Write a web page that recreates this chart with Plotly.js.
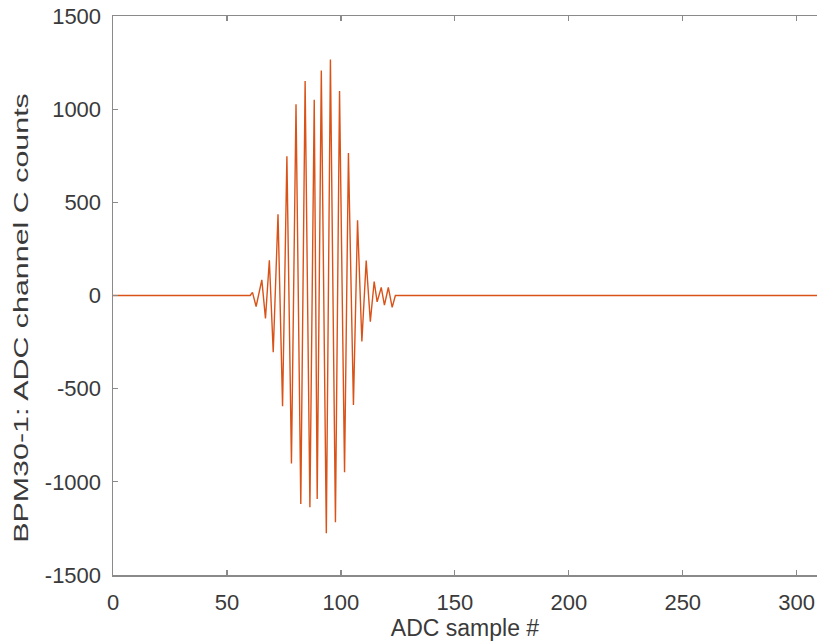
<!DOCTYPE html>
<html>
<head>
<meta charset="utf-8">
<script src="https://cdn.plot.ly/plotly-3.0.1.min.js"></script>
<style>html,body{margin:0;padding:0;background:#fff;}#chart{width:817px;height:642px;}</style>
</head>
<body>
<div id="chart"></div>
<script>
// ADC sample positions of the waveform turning points
const sampleIdx = [0, 60.2, 61.2, 62.8, 65.3, 66.9, 68.6, 70.3, 72.4, 74.4, 76.3, 78.3, 80.3, 82.4,
  84.3, 86.4, 88.3, 89.6, 91.4, 93.6, 95.4, 97.6, 99.4, 101.6, 103.3, 105.5, 107.3, 109.2,
  111.1, 112.9, 114.6, 115.9, 117.7, 119.1, 120.8, 122.5, 123.9, 310];
// ADC channel C counts at those positions
const counts = [0, 0, 17, -59, 84, -123, 189, -304, 436, -594, 747, -901, 1026, -1119,
  1151, -1137, 1051, -1092, 1208, -1276, 1267, -1217, 1097, -949, 765, -588, 404, -247,
  187, -140, 75, -34, 43, -52, 43, -64, 0, 0];
const xTicks = [0, 50, 100, 150, 200, 250, 300];
const yTicks = [-1500, -1000, -500, 0, 500, 1000, 1500];
const xTitle = 'ADC sample #';
const yTitle = 'BPM30-1: ADC channel C counts';

const fontFam = 'Liberation Sans, Arial, sans-serif';
const txtCol = '#3a3a3a';
const axCol = '#8a8a8a';

Plotly.newPlot('chart', [{
  x: sampleIdx, y: counts, type: 'scatter', mode: 'lines',
  line: {color: '#D95319', width: 1.4}, hoverinfo: 'skip'
}], {
  width: 817, height: 642,
  margin: {l: 112.7, r: 0, t: 15.5, b: 67},
  paper_bgcolor: '#fff', plot_bgcolor: '#fff',
  showlegend: false,
  font: {family: fontFam, size: 22, color: txtCol},
  xaxis: {
    range: [0, 308.9], tickvals: xTicks, ticktext: xTicks.map(String),
    ticks: 'inside', ticklen: 5, tickwidth: 1.2, tickcolor: axCol,
    showline: true, linecolor: axCol, linewidth: 1.5, mirror: 'ticks',
    showgrid: false, zeroline: false,
    tickfont: {family: fontFam, size: 22, color: txtCol},
    ticklabelstandoff: 7,
    title: {text: xTitle, font: {family: fontFam, size: 23, color: txtCol}, standoff: 4}
  },
  yaxis: {
    range: [-1500, 1500], tickvals: yTicks, ticktext: yTicks.map(String),
    ticks: 'inside', ticklen: 5, tickwidth: 1.2, tickcolor: axCol,
    showline: true, linecolor: axCol, linewidth: 1.5, mirror: false,
    showgrid: false, zeroline: false,
    tickfont: {family: fontFam, size: 22, color: txtCol},
    ticklabelstandoff: 6,
    title: {text: yTitle, font: {family: fontFam, size: 21, color: txtCol}, standoff: 8}
  }
}, {staticPlot: true, displayModeBar: false}).then(function (gd) {
  // the reference's y-axis label is drawn elongated along its length
  const g = gd.querySelector('.g-ytitle');
  const t = g && g.querySelector('text');
  if (!t) return;
  const svgRect = gd.querySelector('svg.main-svg').getBoundingClientRect();
  const r = t.getBoundingClientRect();
  const cx = r.left + r.width / 2 - svgRect.left;
  const cy = r.top + r.height / 2 - svgRect.top;
  const targetLen = 450, targetCx = 21, targetCy = 318;
  const s = targetLen / r.height;
  g.setAttribute('transform',
    'translate(' + targetCx + ',' + targetCy + ') scale(1,' + s + ') translate(' + (-cx) + ',' + (-cy) + ')');
});
</script>
</body>
</html>
